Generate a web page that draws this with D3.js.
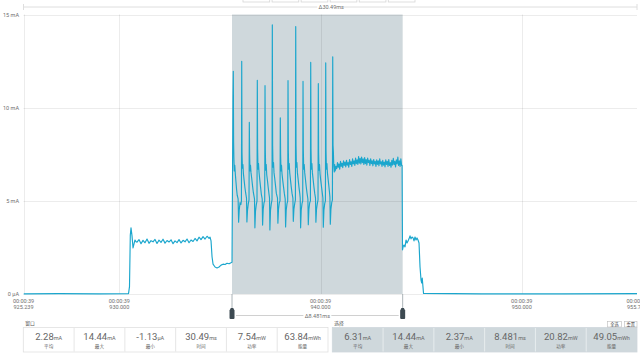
<!DOCTYPE html>
<html><head><meta charset="utf-8">
<script src="https://cdn.jsdelivr.net/npm/d3@7"></script>
<style>
body{margin:0;background:#fff;overflow:hidden}
svg{display:block;font-family:Roboto,"Noto Sans CJK SC",sans-serif}
</style>
</head><body>
<svg id="chart" width="640" height="355"></svg>
<script>
// ---------- data ----------
const timeDomain = [925.239, 955.729];            // ms within second 39
const currentDomain = [0, 15];                     // mA
const xTickValues = [925.239, 930, 940, 950, 955.729];
const xTickTop = ["00:00:39","00:00:39","00:00:39","00:00:39","00:00:39"];
const xTickBottom = ["925.239","930.000","940.000","950.000","955.729"];
const yTickValues = [0, 5, 10, 15];
const yTickLabels = ["0 µA","5 mA","10 mA","15 mA"];
const selectionRange = [935.602, 944.083];
const windowSpanLabel = "Δ30.49ms";
const selectionSpanLabel = "Δ8.481ms";

// trace: [time ms, current mA]
const idleStart = [[925.239,0.01],[927.0,0.02],[929.0,0.01],[930.458,0.02]];
const firstBurst = [
 [930.507,0.40],[930.547,3.17],[930.582,3.55],[930.632,3.12],[930.682,2.47],[930.732,2.69],[930.781,2.90],[930.831,2.80],
 [930.880,2.78],[930.979,2.92],[931.079,2.70],[931.178,2.88],[931.278,2.75],[931.377,2.95],[931.477,2.72],[931.576,2.86],
 [931.676,2.80],[931.775,2.93],[931.874,2.71],[931.974,2.89],[932.073,2.77],[932.173,2.94],[932.272,2.73],[932.372,2.87],
 [932.471,2.79],[932.571,2.91],[932.670,2.70],[932.770,2.85],[932.869,2.76],[932.968,2.92],[933.068,2.74],[933.167,2.88],
 [933.267,2.80],[933.366,2.95],[933.466,2.75],[933.565,2.90],[933.665,2.82],[933.764,2.98],[933.863,2.85],[933.963,3.05],
 [934.062,2.92],[934.162,3.08],[934.261,2.95],[934.361,3.10],[934.460,2.98],
 [934.510,3.05],[934.559,2.85],[934.609,2.00],[934.659,1.60],[934.758,1.45],[934.858,1.40],[934.957,1.45],[935.057,1.55],
 [935.156,1.60],[935.255,1.58],[935.355,1.65],[935.454,1.62],[935.553,1.68],[935.602,1.70]
];
const pulses = [
 [935.625,6.0],[935.650,10.5],[935.666,11.95],[935.680,8.2],[935.695,7.3],[935.715,6.6],[935.740,6.9],[935.770,6.4],[935.800,6.0],[935.830,5.6],[935.860,5.3],[935.905,5.1],[935.930,3.85],[935.960,4.5],[936.000,4.9],[936.040,4.8],[936.070,5.0],
 [936.084,12.49],[936.099,7.6],[936.119,6.75],[936.144,6.95],[936.169,6.45],[936.204,6.10],[936.244,5.70],[936.284,5.40],[936.322,5.15],[936.342,3.87],[936.372,4.50],[936.412,4.85],[936.447,5.05],
 [936.462,9.21],[936.477,7.5],[936.497,6.6],[936.522,6.9],[936.547,6.5],[936.582,6.20],[936.622,5.80],[936.662,5.45],[936.719,5.10],[936.739,3.55],[936.769,4.45],[936.809,4.80],[936.844,5.00],
 [936.859,11.47],[936.874,7.8],[936.894,6.7],[936.919,7.0],[936.944,6.55],[936.979,6.15],[937.019,5.75],[937.059,5.35],[937.102,5.10],[937.122,3.70],[937.152,4.55],[937.192,4.90],[937.227,5.00],
 [937.242,11.18],[937.257,7.7],[937.277,6.65],[937.302,6.95],[937.327,6.4],[937.362,6.10],[937.402,5.70],[937.442,5.35],[937.465,5.15],[937.485,3.44],[937.515,4.50],[937.555,4.85],[937.590,5.05],
 [937.605,14.44],[937.620,8.0],[937.640,6.8],[937.665,7.05],[937.690,6.5],[937.725,6.20],[937.765,5.80],[937.805,5.40],[937.862,5.15],[937.882,3.80],[937.912,4.55],[937.952,4.90],[937.987,5.00],
 [938.002,9.45],[938.017,7.5],[938.037,6.6],[938.062,6.9],[938.087,6.45],[938.122,6.10],[938.162,5.75],[938.202,5.40],[938.245,5.10],[938.265,3.60],[938.295,4.50],[938.335,4.85],[938.370,5.00],
 [938.385,11.45],[938.400,7.7],[938.420,6.7],[938.445,7.0],[938.470,6.5],[938.505,6.15],[938.545,5.75],[938.585,5.40],[938.628,5.15],[938.648,3.90],[938.678,4.55],[938.718,4.85],[938.753,5.05],
 [938.768,14.35],[938.783,8.0],[938.803,6.8],[938.828,7.05],[938.853,6.5],[938.888,6.15],[938.928,5.75],[938.968,5.40],[938.991,5.15],[939.011,3.55],[939.041,4.50],[939.081,4.85],[939.116,5.00],
 [939.131,11.41],[939.146,7.7],[939.166,6.7],[939.191,6.95],[939.216,6.5],[939.251,6.15],[939.291,5.75],[939.331,5.40],[939.373,5.10],[939.393,3.72],[939.423,4.55],[939.463,4.90],[939.498,5.00],
 [939.513,12.43],[939.528,7.8],[939.548,6.7],[939.573,7.0],[939.598,6.5],[939.633,6.15],[939.673,5.75],[939.713,5.40],[939.751,5.15],[939.771,3.85],[939.801,4.55],[939.841,4.85],[939.876,5.05],
 [939.891,11.29],[939.906,7.6],[939.926,6.65],[939.951,6.95],[939.976,6.45],[940.011,6.10],[940.051,5.75],[940.091,5.40],[940.119,5.15],[940.139,3.58],[940.169,4.50],[940.209,4.85],[940.244,5.00],
 [940.259,12.40],[940.274,7.7],[940.294,6.7],[940.319,7.0],[940.344,6.5],[940.379,6.15],[940.419,5.75],[940.447,5.45],[940.467,5.20],[940.487,3.75],[940.517,4.55],[940.557,4.90],[940.592,5.05],
 [940.607,12.73],[940.622,8.0],[940.640,7.6],[940.660,6.85],[940.685,6.55],[940.705,6.95]
];
const secondPlateau = [
 [940.730,6.60],[940.768,6.85],[940.805,6.72],[940.843,7.05],[940.880,6.80],[940.918,6.98],[940.955,6.70],[940.993,7.12],
 [941.030,6.85],[941.068,7.02],[941.105,6.78],[941.143,7.15],[941.180,6.90],[941.218,7.08],[941.255,6.82],[941.293,7.18],
 [941.330,6.92],[941.368,7.05],[941.405,6.80],[941.443,7.22],[941.480,6.95],[941.518,7.10],[941.555,6.85],[941.593,7.25],
 [941.630,6.98],[941.668,7.15],[941.705,6.90],[941.743,7.30],[941.780,7.00],[941.818,7.20],[941.855,6.95],[941.893,7.38],
 [941.930,7.02],[941.968,7.28],[942.005,6.98],[942.043,7.35],[942.080,7.05],[942.118,7.25],[942.155,6.95],[942.193,7.32],
 [942.230,7.00],[942.268,7.22],[942.305,6.92],[942.343,7.30],[942.380,7.05],[942.418,7.18],[942.455,6.90],[942.493,7.26],
 [942.530,7.00],[942.568,7.15],[942.605,6.88],[942.643,7.22],[942.680,6.98],[942.718,7.12],[942.755,6.85],[942.793,7.20],
 [942.830,6.95],[942.868,7.15],[942.905,6.88],[942.943,7.25],[942.980,6.98],[943.018,7.10],[943.055,6.85],[943.093,7.18],
 [943.130,6.92],[943.168,7.08],[943.205,6.82],[943.243,7.20],[943.280,6.95],[943.318,7.12],[943.355,6.85],[943.393,7.22],
 [943.430,6.90],[943.468,7.05],[943.505,6.80],[943.543,7.18],[943.580,6.92],[943.618,7.28],[943.655,6.95],[943.693,7.12],
 [943.730,6.82],[943.768,7.20],[943.805,6.98],[943.843,7.35],[943.880,6.90],[943.918,7.15],[943.955,6.85],[943.993,7.25],
 [944.030,6.90]
];
const tailAndIdle = [
 [944.055,6.9],[944.075,2.37],[944.110,2.55],[944.150,2.63],[944.200,2.53],[944.250,2.90],[944.299,2.74],[944.349,2.85],
 [944.399,2.96],[944.449,3.12],[944.498,2.96],[944.548,3.06],[944.598,3.01],[944.647,2.85],[944.697,3.06],[944.747,2.90],
 [944.796,3.01],[944.846,2.90],[944.896,2.74],[944.946,1.45],[944.995,0.75],[945.030,0.59],[945.055,0.86],[945.120,0.03],
 [948.0,0.01],[952.0,0.01],[955.729,0.02]
];

const statLabels = ["平均","最大","最小","时间","功率","能量"];
const windowValues = ["2.28","14.44","-1.13","30.49","7.54","63.84"];
const windowUnits = ["mA","mA","µA","ms","mW","mWh"];
const selectionValues = ["6.31","14.44","2.37","8.481","20.82","49.05"];
const selectionUnits = ["mA","mA","mA","ms","mW","mWh"];
const topButtons = ["","","","","",""];

// ---------- drawing ----------
const trace = [].concat(idleStart, firstBurst, pulses, secondPlateau, tailAndIdle);
const svg = d3.select("#chart");
const L = 23.5, R = 637, T = 14.5, B = 294;
const x = d3.scaleLinear().domain(timeDomain).range([L, R]);
const y = d3.scaleLinear().domain(currentDomain).range([B, T]);
const lineColor = "#1aa6cd", selFill = "#cfd8dc", textCol = "#6f6f6f";

// top button stubs
const btnX = d3.scaleBand().domain(d3.range(topButtons.length)).range([243, 415]).paddingInner(0.08);
svg.selectAll("rect.tb").data(topButtons).join("rect")
  .attr("x",(d,i)=>btnX(i)).attr("y",-8).attr("width",btnX.bandwidth()).attr("height",10)
  .attr("fill","#fff").attr("stroke","#d6d6d6").attr("stroke-width",0.8);

// top span line
svg.append("line").attr("x1",L).attr("x2",R).attr("y1",7).attr("y2",7).attr("stroke","#dedede");
svg.append("line").attr("x1",L).attr("x2",L).attr("y1",4).attr("y2",10).attr("stroke","#dedede");
svg.append("line").attr("x1",R).attr("x2",R).attr("y1",4).attr("y2",10).attr("stroke","#dedede");
svg.append("rect").attr("x",(L+R)/2-13).attr("y",3).attr("width",26).attr("height",8).attr("fill","#fff");
svg.append("text").attr("x",(L+R)/2+1).attr("y",9).attr("text-anchor","middle")
  .attr("font-size",5.5).attr("fill",textCol).text(windowSpanLabel);

// selection
svg.append("rect").attr("x",x(selectionRange[0])).attr("y",T).attr("width",x(selectionRange[1])-x(selectionRange[0]))
  .attr("height",B-T).attr("fill",selFill);

// grid
const g = svg.append("g");
g.selectAll("line.h").data(yTickValues).join("line")
  .attr("x1",L).attr("x2",R).attr("y1",d=>Math.round(y(d))+0.5).attr("y2",d=>Math.round(y(d))+0.5)
  .attr("stroke","rgba(0,0,0,0.075)");
g.selectAll("line.v").data(xTickValues.slice(0,4)).join("line")
  .attr("x1",d=>Math.round(x(d))+0.5).attr("x2",d=>Math.round(x(d))+0.5).attr("y1",T).attr("y2",B)
  .attr("stroke","rgba(0,0,0,0.075)");

// y labels
svg.selectAll("text.yl").data(yTickValues).join("text")
  .attr("x",19).attr("y",d=>y(d)+2).attr("text-anchor","end").attr("font-size",5.5).attr("fill",textCol)
  .text((d,i)=>yTickLabels[i]);

// x labels (last one runs off the right edge, as in the reference)
const xl = svg.selectAll("g.xl").data(xTickValues).join("g").attr("transform",d=>`translate(${x(d)},0)`);
xl.append("text").attr("y",303).attr("text-anchor","middle").attr("font-size",5.5).attr("fill",textCol).text((d,i)=>xTickTop[i]);
xl.append("text").attr("y",309).attr("text-anchor","middle").attr("font-size",5.5).attr("fill",textCol).text((d,i)=>xTickBottom[i]);

// trace
svg.append("clipPath").attr("id","clip").append("rect").attr("x",L).attr("y",0).attr("width",R-L+3).attr("height",B+2);
svg.append("path").datum(trace).attr("clip-path","url(#clip)")
  .attr("d",d3.line().x(d=>x(d[0])).y(d=>y(d[1])))
  .attr("fill","none").attr("stroke",lineColor).attr("stroke-width",1.15).attr("stroke-linejoin","round");

// selection markers
const mx = selectionRange.map(x);
svg.append("line").attr("x1",mx[0]+4).attr("x2",mx[1]-4).attr("y1",315.5).attr("y2",315.5).attr("stroke","#d0d0d0");
svg.append("rect").attr("x",(mx[0]+mx[1])/2-14).attr("y",312).attr("width",28).attr("height",7).attr("fill","#fff");
svg.append("text").attr("x",(mx[0]+mx[1])/2).attr("y",317.5).attr("text-anchor","middle").attr("font-size",5.5)
  .attr("fill",textCol).text(selectionSpanLabel);
mx.forEach(m=>{
  svg.append("line").attr("x1",m).attr("x2",m).attr("y1",B).attr("y2",309).attr("stroke","#8a969c").attr("stroke-width",0.7);
  svg.append("path").attr("d",`M${m-1.2},308 L${m+1.2},308 L${m+2.5},310.5 L${m+2.5},318 Q${m+2.5},319 ${m+1.5},319 L${m-1.5},319 Q${m-2.5},319 ${m-2.5},318 L${m-2.5},310.5 Z`)
    .attr("fill","#3d4a52");
});

// stat panels
function panel(x0, x1, title, vals, units, bg, lineCol, border){
  const cx = d3.scaleBand().domain(d3.range(6)).range([x0,x1]);
  svg.append("text").attr("x",x0+2).attr("y",324.5).attr("font-size",4.8).attr("fill","#555").text(title);
  svg.append("rect").attr("x",x0).attr("y",327.5).attr("width",x1-x0).attr("height",24.5)
    .attr("fill",bg).attr("stroke",border).attr("stroke-width",0.8);
  d3.range(1,6).forEach(i=>svg.append("line").attr("x1",cx(i)).attr("x2",cx(i)).attr("y1",328).attr("y2",351.5)
    .attr("stroke",lineCol).attr("stroke-width",0.8));
  vals.forEach((v,i)=>{
    const c = cx(i)+cx.bandwidth()/2;
    const t = svg.append("text").attr("x",c).attr("y",340).attr("text-anchor","middle").attr("fill","#666");
    t.append("tspan").attr("font-size",9.5).text(v);
    t.append("tspan").attr("font-size",5.5).text(units[i]);
    svg.append("text").attr("x",c).attr("y",347.5).attr("text-anchor","middle").attr("font-size",4.6)
      .attr("fill","#666").text(statLabels[i]);
  });
}
panel(23.3, 328, "窗口", windowValues, windowUnits, "#fff", "#e0e0e0", "#e0e0e0");
panel(332.3, 637, "选择", selectionValues, selectionUnits, selFill, "#eef1f3", selFill);

// small buttons
[["全选",607.5,14],["重置",624.5,12.5]].forEach(b=>{
  svg.append("rect").attr("x",b[1]).attr("y",321.5).attr("width",b[2]).attr("height",5.5).attr("fill","#fff")
    .attr("stroke","#bbb").attr("stroke-width",0.6);
  svg.append("text").attr("x",b[1]+b[2]/2).attr("y",325.8).attr("text-anchor","middle").attr("font-size",4.2)
    .attr("fill","#444").text(b[0]);
});
</script>
</body></html>
